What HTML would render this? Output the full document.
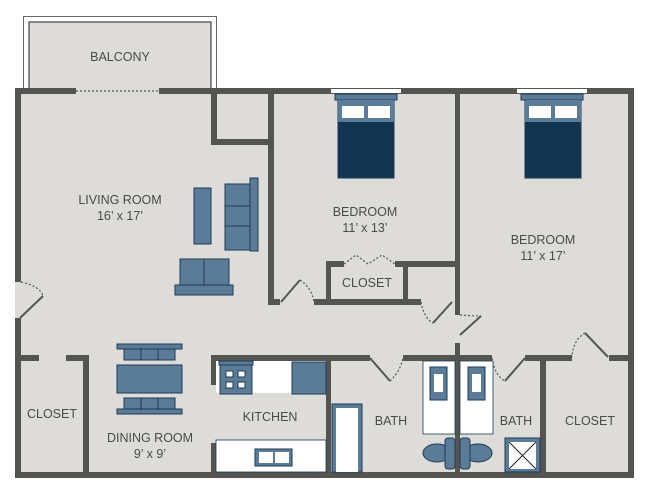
<!DOCTYPE html>
<html><head><style>
html,body{margin:0;padding:0;background:#fff;}
svg{display:block;}
text{font-family:"Liberation Sans",sans-serif;font-size:12.5px;fill:#4a4a48;text-anchor:middle;}
</style></head><body>
<svg width="650" height="497" viewBox="0 0 650 497" xmlns="http://www.w3.org/2000/svg">
<!-- balcony -->
<rect x="23.5" y="16.5" width="193" height="74" fill="#fff" stroke="#666" stroke-width="1"/>
<rect x="29" y="22" width="182" height="68" fill="#dddcd9" stroke="#444" stroke-width="1.2"/>
<!-- floor -->
<rect x="15" y="88" width="619" height="390" fill="#dddcd9"/>
<g fill="#545550">
<!-- outer walls -->
<rect x="15" y="88" width="61" height="6"/>
<rect x="159" y="88" width="475" height="6"/>
<rect x="15" y="88" width="6" height="194"/>
<rect x="15" y="318" width="6" height="160"/>
<rect x="628" y="88" width="6" height="390"/>
<rect x="15" y="472" width="619" height="6"/>
<!-- small closet near living -->
<rect x="211" y="94" width="6" height="51"/>
<rect x="211" y="139" width="63" height="6"/>
<rect x="268" y="94" width="6" height="211"/>
<rect x="268" y="299" width="12" height="6"/>
<rect x="314" y="299" width="107" height="6"/>
<!-- bedroom divider -->
<rect x="455" y="94" width="5" height="221"/>
<rect x="455" y="343" width="5" height="135"/>
<!-- closet in bedroom1 -->
<rect x="326" y="261" width="18" height="6"/>
<rect x="395" y="261" width="60" height="6"/>
<rect x="326" y="261" width="5" height="42"/>
<rect x="403" y="261" width="5" height="40"/>
<!-- horizontal corridor wall -->
<rect x="211" y="355" width="159" height="6"/>
<rect x="403" y="355" width="89" height="6"/>
<rect x="525" y="355" width="47" height="6"/>
<rect x="609" y="355" width="25" height="6"/>
<rect x="326" y="355" width="5" height="123"/>
<rect x="540" y="355" width="6" height="123"/>
<rect x="211" y="355" width="5" height="30"/>
<rect x="211" y="443" width="5" height="35"/>
<!-- left closet -->
<rect x="15" y="355" width="24" height="6"/>
<rect x="66" y="355" width="23" height="6"/>
<rect x="83" y="355" width="6" height="123"/>
</g>
<!-- doors -->
<g stroke="#545550" stroke-width="2" fill="none">
<line x1="20" y1="318" x2="43" y2="296"/>
<line x1="281" y1="302" x2="300" y2="280"/>
<line x1="433" y1="323" x2="452" y2="302"/>
<line x1="460" y1="335" x2="481" y2="316"/>
<line x1="370" y1="358" x2="390" y2="381"/>
<line x1="525" y1="358" x2="505" y2="381"/>
<line x1="585" y1="333" x2="608" y2="357"/>
</g>
<g stroke="#555" stroke-width="1.2" fill="none" stroke-dasharray="2,2">
<line x1="76" y1="91" x2="159" y2="91"/>
<path d="M21 282 Q40 286 43 296"/>
<path d="M300 280 Q312 288 314 302"/>
<path d="M344 264 L356 255 L368 264 L382 255 L395 264"/>
<path d="M421 302 Q424 318 433 323"/>
<path d="M460 315 Q476 316 481 316"/>
<path d="M390 381 Q400 372 403 358"/>
<path d="M492 358 Q495 376 505 381"/>
<path d="M585 333 Q573 340 572 357"/>
</g>
<!-- kitchen -->
<rect x="216" y="361" width="110" height="32" fill="#fff"/>
<rect x="292" y="362" width="34" height="32" fill="#5a7c97" stroke="#1c3a57"/>
<rect x="220" y="364" width="32" height="30" fill="#5a7c97" stroke="#1c3a57"/>
<rect x="219" y="361" width="34" height="4" fill="#5a7c97" stroke="#1c3a57"/>
<g fill="#fff" stroke="#1c3a57"><rect x="226" y="371" width="7" height="6"/><rect x="238" y="371" width="7" height="6"/><rect x="226" y="382" width="7" height="6"/><rect x="238" y="382" width="7" height="6"/></g>
<rect x="216" y="440" width="110" height="32" fill="#fff" stroke="#1c3a57" stroke-width="0.8"/>
<rect x="255" y="449" width="37" height="17" fill="#5a7c97" stroke="#1c3a57"/>
<rect x="259" y="452" width="14" height="11" fill="#fff"/><rect x="275" y="452" width="14" height="11" fill="#fff"/>
<!-- bath 1 -->
<rect x="332" y="404" width="30" height="68" fill="#5a7c97" stroke="#1c3a57"/>
<rect x="336" y="408" width="22" height="64" fill="#fff"/>
<rect x="423" y="361" width="32" height="73" fill="#fff" stroke="#1c3a57" stroke-width="0.8"/>
<rect x="460" y="361" width="33" height="73" fill="#fff" stroke="#1c3a57" stroke-width="0.8"/>
<rect x="430" y="367" width="17" height="33" fill="#5a7c97" stroke="#1c3a57"/>
<rect x="434" y="374" width="9" height="18" fill="#fff"/>
<rect x="468" y="367" width="17" height="33" fill="#5a7c97" stroke="#1c3a57"/>
<rect x="472" y="374" width="9" height="18" fill="#fff"/>
<g fill="#5a7c97" stroke="#1c3a57">
<ellipse cx="437" cy="453" rx="14" ry="9"/><rect x="445" y="438" width="10" height="31" rx="3"/>
<ellipse cx="478" cy="453" rx="14" ry="9"/><rect x="460" y="438" width="10" height="31" rx="3"/>
</g>
<rect x="505" y="438" width="35" height="34" fill="#5a7c97" stroke="#1c3a57"/>
<rect x="509" y="442" width="27" height="27" fill="#fff"/>
<path d="M509 442 L536 469 M536 442 L509 469" stroke="#222" stroke-width="1"/>
<!-- living furniture -->
<g fill="#5a7c97" stroke="#1c3a57" stroke-width="1">
<rect x="194" y="188" width="17" height="56"/>
<rect x="225" y="184" width="25" height="66"/>
<rect x="250" y="178" width="8" height="73"/>
<line x1="225" y1="206" x2="250" y2="206"/><line x1="225" y1="226" x2="250" y2="226"/>
<rect x="180" y="259" width="49" height="27"/>
<line x1="204" y1="259" x2="204" y2="286"/>
<rect x="175" y="285" width="58" height="10"/>
<!-- dining -->
<rect x="117" y="365" width="65" height="28"/>
<rect x="124" y="348" width="51" height="12"/><rect x="117" y="344" width="65" height="5"/>
<rect x="124" y="398" width="51" height="12"/><rect x="117" y="409" width="65" height="5"/>
<line x1="141" y1="348" x2="141" y2="360"/><line x1="158" y1="348" x2="158" y2="360"/>
<line x1="141" y1="398" x2="141" y2="410"/><line x1="158" y1="398" x2="158" y2="410"/>
</g>
<!-- beds -->
<g>
<rect x="331" y="89" width="70" height="4" fill="#fff"/>
<rect x="335" y="94" width="62" height="6" fill="#5a7c97" stroke="#1c3a57"/>
<rect x="338" y="100" width="56" height="78" fill="#13344f" stroke="#1c3a57"/>
<rect x="338" y="100" width="56" height="22" fill="#5a7c97"/>
<rect x="342" y="106" width="22" height="12" fill="#fff"/><rect x="368" y="106" width="22" height="12" fill="#fff"/>
<rect x="517" y="89" width="70" height="4" fill="#fff"/>
<rect x="521" y="94" width="62" height="6" fill="#5a7c97" stroke="#1c3a57"/>
<rect x="525" y="100" width="56" height="78" fill="#13344f" stroke="#1c3a57"/>
<rect x="525" y="100" width="56" height="22" fill="#5a7c97"/>
<rect x="529" y="106" width="22" height="12" fill="#fff"/><rect x="555" y="106" width="22" height="12" fill="#fff"/>
</g>
<!-- labels -->
<text x="120" y="61">BALCONY</text>
<text x="120" y="204">LIVING ROOM</text>
<text x="120" y="220">16’ x 17’</text>
<text x="365" y="216">BEDROOM</text>
<text x="365" y="232">11’ x 13’</text>
<text x="543" y="244">BEDROOM</text>
<text x="543" y="260">11’ x 17’</text>
<text x="367" y="287">CLOSET</text>
<text x="52" y="418">CLOSET</text>
<text x="150" y="442">DINING ROOM</text>
<text x="150" y="458">9’ x 9’</text>
<text x="270" y="421">KITCHEN</text>
<text x="391" y="425">BATH</text>
<text x="516" y="425">BATH</text>
<text x="590" y="425">CLOSET</text>
</svg>
</body></html>
